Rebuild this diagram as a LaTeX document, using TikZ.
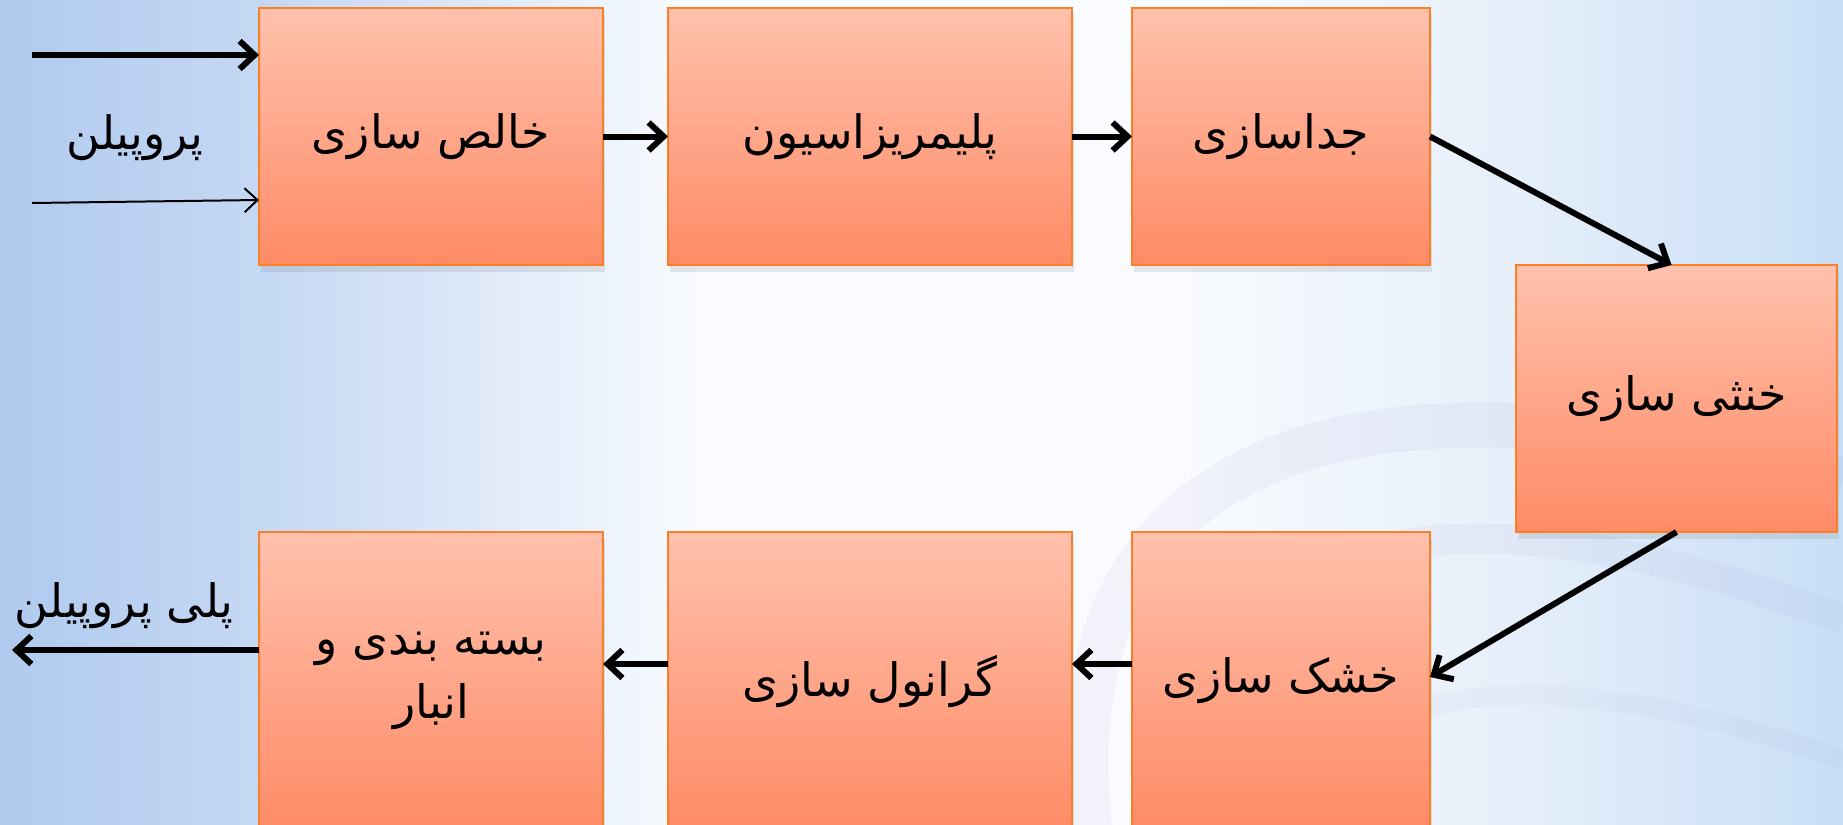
\documentclass[tikz,border=0pt]{standalone}
\usepackage{fontspec}
\newfontfamily\arabicfont[Script=Arabic]{DejaVu Sans}
\TeXXeTstate=1
\usetikzlibrary{arrows.meta,shadows,calc}
\definecolor{boxtop}{RGB}{255,193,173}
\definecolor{boxbot}{RGB}{255,139,102}
\definecolor{boxline}{RGB}{247,128,40}
\definecolor{bgL}{RGB}{176,202,238}
\definecolor{bgLm}{RGB}{200,218,244}
\definecolor{bgM}{RGB}{249,251,254}
\definecolor{bgRm}{RGB}{230,239,250}
\definecolor{bgR}{RGB}{200,222,246}
\definecolor{swoosh}{RGB}{150,140,205}
\pgfdeclarehorizontalshading{bgshade}{100bp}{color(0bp)=(bgL); color(25bp)=(bgL); color(33bp)=(bgLm); color(44bp)=(bgM); color(57bp)=(bgM); color(66bp)=(bgRm); color(75bp)=(bgR); color(100bp)=(bgR)}
\begin{document}
\begin{tikzpicture}[x=1pt,y=-1pt,
  stage/.style={draw=boxline, line width=1.5pt, top color=boxtop, bottom color=boxbot,
    inner sep=0pt, outer sep=0pt, align=center,
    font=\arabicfont\fontsize{46}{64}\selectfont,
    drop shadow={opacity=0.18, shadow xshift=2pt, shadow yshift=-7pt}},
  flow/.style={line width=6pt, -{Straight Barb[length=15pt,width=28pt]}},
  thinflow/.style={line width=2pt, -{Straight Barb[length=13pt,width=24pt]}},
  lbl/.style={inner sep=0pt, font=\arabicfont\fontsize{46}{50}\selectfont}]
\useasboundingbox (0,0) rectangle (1843,824);
\clip (0,0) rectangle (1843,824);
\fill[shading=bgshade] (0,0) rectangle (1843,824);
% faint background swooshes
\draw[swoosh, opacity=0.08, line width=45pt] (1090,830) .. controls (1050,470) and (1320,340) .. (1843,480);
\draw[swoosh, opacity=0.07, line width=30pt] (1200,830) .. controls (1170,580) and (1370,440) .. (1843,620);
\draw[swoosh, opacity=0.05, line width=20pt] (1300,830) .. controls (1330,700) and (1500,640) .. (1843,760);
% stages
\node[stage, minimum width=344pt, minimum height=257pt] (b1) at (431,136.5) {\beginR خالص سازی\endR};
\node[stage, minimum width=404pt, minimum height=257pt] (b2) at (870,136.5) {\beginR پلیمریزاسیون\endR};
\node[stage, minimum width=298pt, minimum height=257pt] (b3) at (1281,136.5) {\beginR جداسازی\endR};
\node[stage, minimum width=321pt, minimum height=267pt] (b4) at (1676.5,398.5) {\beginR خنثی سازی\endR};
\node[stage, minimum width=298pt, minimum height=298pt] (b5) at (1281,681) {\beginR خشک سازی\endR};
\node[stage, minimum width=404pt, minimum height=298pt] (b6) at (870,681) {\beginR گرانول سازی\endR};
\node[stage, minimum width=344pt, minimum height=298pt] (b7) at (431,681) {\beginR بسته بندی و\endR\\\beginR انبار\endR};
% labels
\node[lbl] (lin) at (135,138) {\beginR پروپیلن\endR};
\node[lbl] (lout) at (124,606) {\beginR پلی پروپیلن\endR};
% free ends
\coordinate (in1) at (32,55);
\coordinate (in2) at (32,203);
\coordinate (out) at (12,650);
% connectors
\draw[flow] (in1) -- (b1.west |- in1);
\draw[thinflow] (in2) -- ($(b1.south west)+(0,-65)$);
\draw[flow] (b1.east) -- (b2.west);
\draw[flow] (b2.east) -- (b3.west);
\draw[flow] (b3.east) -- ([xshift=-5pt]b4.north);
\draw[flow] (b4.south) -- ([yshift=4pt]b5.east);
\draw[flow] ([yshift=17pt]b5.west) -- ([yshift=17pt]b6.east);
\draw[flow] ([yshift=17pt]b6.west) -- ([yshift=17pt]b7.east);
\draw[flow] ([yshift=31pt]b7.west) -- (out);
\end{tikzpicture}
\end{document}
